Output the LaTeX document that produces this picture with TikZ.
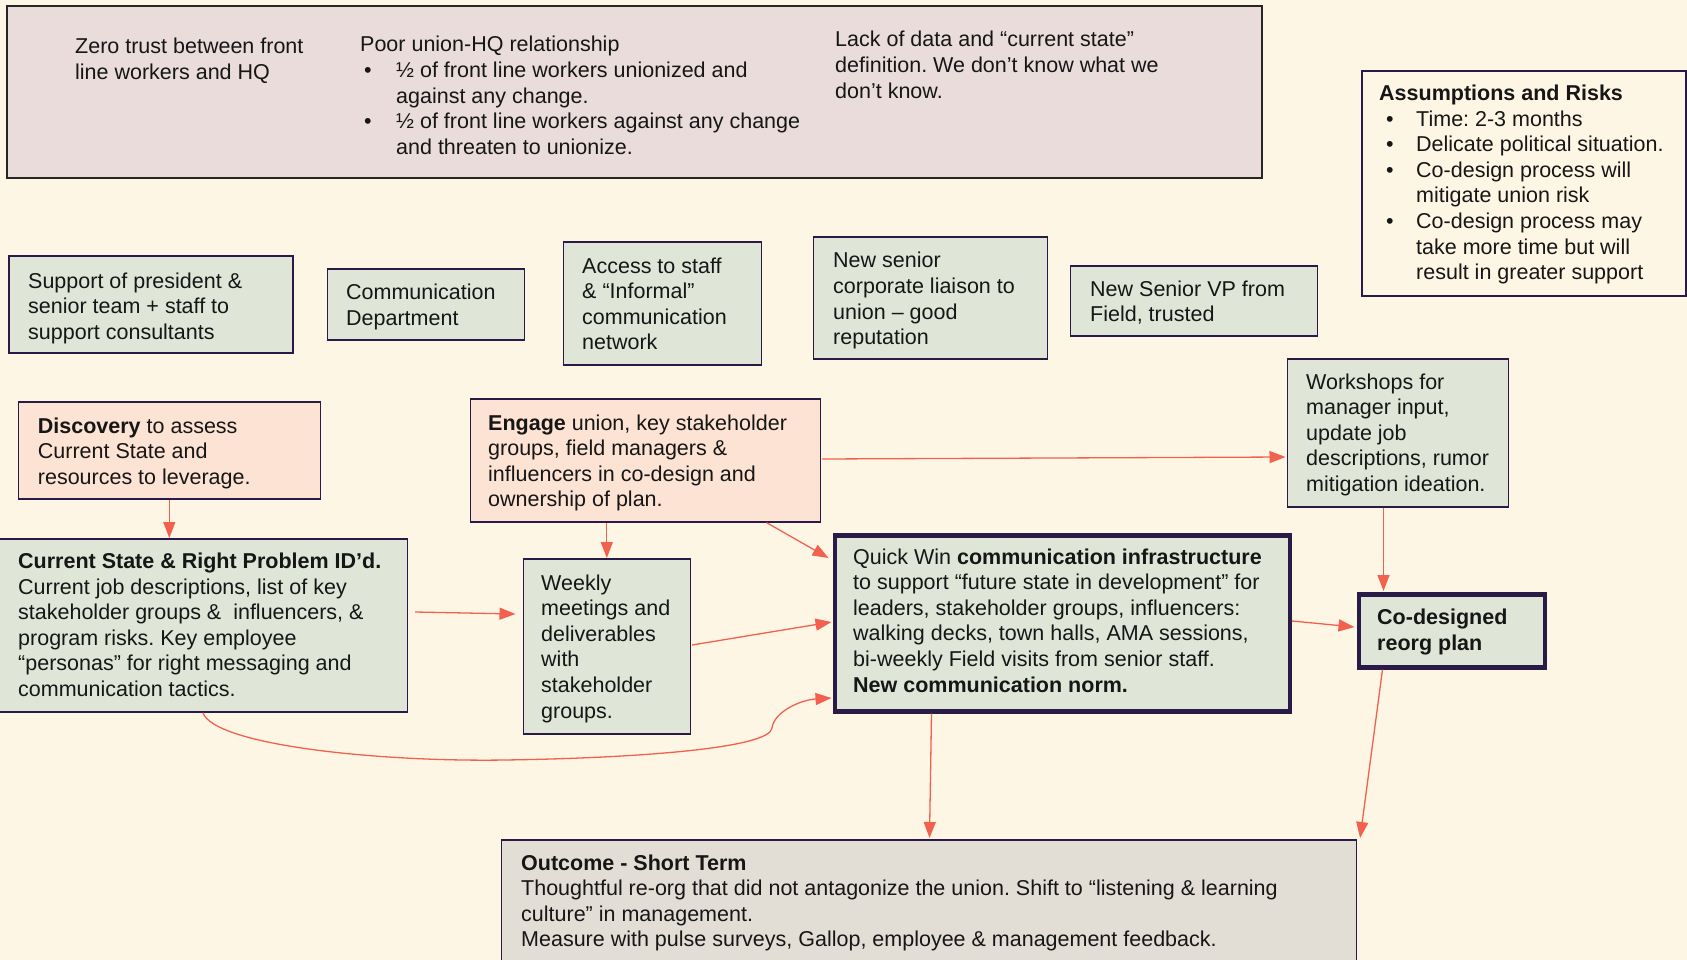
\documentclass[tikz,border=0pt]{standalone}
\usepackage{fontspec}
\setmainfont{Liberation Sans}
\usetikzlibrary{arrows.meta,calc}
\definecolor{bgc}{HTML}{FEF6E5}
\definecolor{topc}{HTML}{E9DCDA}
\definecolor{grn}{HTML}{DFE6D8}
\definecolor{pch}{HTML}{FCE3D3}
\definecolor{outc}{HTML}{E3DED5}
\definecolor{bord}{HTML}{2A1A48}
\definecolor{arr}{HTML}{F2604E}
\definecolor{ink}{HTML}{161616}
\newcommand{\tlines}[1]{\begin{tabular}[t]{@{}l@{}}#1\end{tabular}}
\newcommand{\bul}{\makebox[32pt][l]{•}}
\newcommand{\bind}{\hspace*{32pt}}
\frenchspacing
\tikzset{
  box/.style={draw=bord, line width=1.6pt, inner sep=0pt, anchor=north west},
  thickbox/.style={box, line width=4.5pt},
  txt/.style={anchor=base west, inner sep=0pt, yshift=-1pt, text=ink, font=\frenchspacing\fontsize{21.5}{25.6}\selectfont},
  conn/.style={draw=arr, line width=1.3pt, -{Triangle[length=16pt,width=12pt]}}
}
\begin{document}
\begin{tikzpicture}[x=1pt,y=-1pt]
\useasboundingbox (0,0) rectangle (1687,960);
\fill[bgc] (0,0) rectangle (1687,960);

% top problem box
\node[box, draw=black!85, line width=2pt, fill=topc, minimum width=1254.5pt, minimum height=172pt] (top) at (6,5) {};
\node[txt] (t1) at (75,53) {\tlines{Zero trust between front\\line workers and HQ}};
\node[txt] (t2) at (360,51) {\tlines{Poor union-HQ relationship\\
\hspace*{4pt}\bul ½ of front line workers unionized and\\
\hspace*{4pt}\bind against any change.\\
\hspace*{4pt}\bul ½ of front line workers against any change\\
\hspace*{4pt}\bind and threaten to unionize.}};
\node[txt] (t3) at (835,46) {\tlines{Lack of data and “current state”\\definition. We don’t know what we\\don’t know.}};

% assumptions
\node[box, minimum width=324pt, minimum height=225pt] (asm) at (1361,70) {};
\node[txt] (asmt) at (1379,99.5) {\tlines{\textbf{Assumptions and Risks}\\
\hspace*{7pt}\makebox[30pt][l]{•}Time: 2-3 months\\
\hspace*{7pt}\makebox[30pt][l]{•}Delicate political situation.\\
\hspace*{7pt}\makebox[30pt][l]{•}Co-design process will\\
\hspace*{37pt}mitigate union risk\\
\hspace*{7pt}\makebox[30pt][l]{•}Co-design process may\\
\hspace*{37pt}take more time but will\\
\hspace*{37pt}result in greater support}};

% resources row
\node[box, fill=grn, minimum width=284pt, minimum height=97pt] (sup) at (8,255) {};
\node[txt] (supt) at (28,287) {\tlines{Support of president \&\\senior team + staff to\\support consultants}};
\node[box, fill=grn, minimum width=197pt, minimum height=71pt] (com) at (326.5,268) {};
\node[txt] (comt) at (346,298.6) {\tlines{Communication\\Department}};
\node[box, fill=grn, minimum width=198pt, minimum height=123pt] (acc) at (562.5,241) {};
\node[txt] (acct) at (582,272) {\tlines{Access to staff\\\& “Informal”\\communication\\network}};
\node[box, fill=grn, minimum width=234pt, minimum height=122pt] (nsl) at (812.5,236) {};
\node[txt] (nslt) at (833,267) {\tlines{New senior\\corporate liaison to\\union – good\\reputation}};
\node[box, fill=grn, minimum width=247pt, minimum height=70pt] (nvp) at (1069.5,265) {};
\node[txt] (nvpt) at (1090,295) {\tlines{New Senior VP from\\Field, trusted}};

% process boxes
\node[box, fill=pch, minimum width=302pt, minimum height=97pt] (disc) at (17.5,401) {};
\node[txt] (disct) at (37.7,432) {\tlines{\textbf{Discovery} to assess\\Current State and\\resources to leverage.}};
\node[box, fill=pch, minimum width=350pt, minimum height=123pt] (eng) at (469.5,398) {};
\node[txt] (engt) at (488,429) {\tlines{\textbf{Engage} union, key stakeholder\\groups, field managers \&\\influencers in co-design and\\ownership of plan.}};
\node[box, fill=grn, minimum width=221pt, minimum height=148pt] (work) at (1286.5,358) {};
\node[txt] (workt) at (1306,388) {\tlines{Workshops for\\manager input,\\update job\\descriptions, rumor\\mitigation ideation.}};
\node[box, fill=grn, minimum width=409pt, minimum height=173pt] (cur) at (-2.5,538) {};
\node[txt] (curt) at (18,567.5) {\tlines{\textbf{Current State \& Right Problem ID’d.}\\Current job descriptions, list of key\\stakeholder groups \&\ \ influencers, \&\\program risks. Key employee\\“personas” for right messaging and\\communication tactics.}};
\node[box, fill=grn, minimum width=167pt, minimum height=175pt] (week) at (522.5,558) {};
\node[txt] (weekt) at (541,589) {\tlines{Weekly\\meetings and\\deliverables\\with\\stakeholder\\groups.}};
\node[thickbox, fill=grn, minimum width=455pt, minimum height=176pt] (qw) at (832.5,533) {};
\node[txt] (qwt) at (853,563) {\tlines{Quick Win \textbf{communication infrastructure}\\to support “future state in development” for\\leaders, stakeholder groups, influencers:\\walking decks, town halls, AMA sessions,\\bi-weekly Field visits from senior staff.\\\textbf{New communication norm.}}};
\node[thickbox, fill=grn, minimum width=186pt, minimum height=73pt] (co) at (1356.5,592) {};
\node[txt] (cot) at (1377,623.5) {\tlines{\textbf{Co-designed}\\\textbf{reorg plan}}};
\node[box, fill=outc, minimum width=855pt, minimum height=150pt] (out) at (500.5,839) {};
\node[txt] (outt) at (521,869) {\tlines{\textbf{Outcome - Short Term}\\Thoughtful re-org that did not antagonize the union. Shift to “listening \& learning\\culture” in management.\\Measure with pulse surveys, Gallop, employee \& management feedback.}};

% connectors
\draw[conn] (disc.south) -- (disc.south |- cur.north);
\draw[conn] ($(cur.north east)+(7,74)$) -- ($(week.north west)+(-7,56)$);
\draw[conn] (week.north |- eng.south) -- (week.north);
\draw[conn] ($(eng.south west)+(297,0)$) -- ($(qw.north west)+(-4,25)$);
\draw[conn] ($(eng.north east)+(1,61)$) -- ($(work.north west)+(-1,99)$);
\draw[conn] ($(week.north east)+(1,87)$) -- ($(qw.north west)+(-1,89)$);
\draw[conn] (cur.south) .. controls ($(cur.south)+(12,33)$) and (380,762) .. (505,760)
  .. controls (640,758) and (770,748) .. (772,728)
  .. controls (774,712) and (800,700) .. ($(qw.north west)+(-1,165)$);
\draw[conn] ($(qw.south west)+(99,0)$) -- ($(out.north west)+(429,-1)$);
\draw[conn] ($(qw.north east)+(0,88)$) -- ($(co.north west)+(-2,35)$);
\draw[conn] ($(work.south west)+(97,0)$) -- ($(co.north west)+(27,-1)$);
\draw[conn] ($(co.south west)+(26,0)$) -- ($(out.north east)+(3,-1)$);
\end{tikzpicture}
\end{document}
